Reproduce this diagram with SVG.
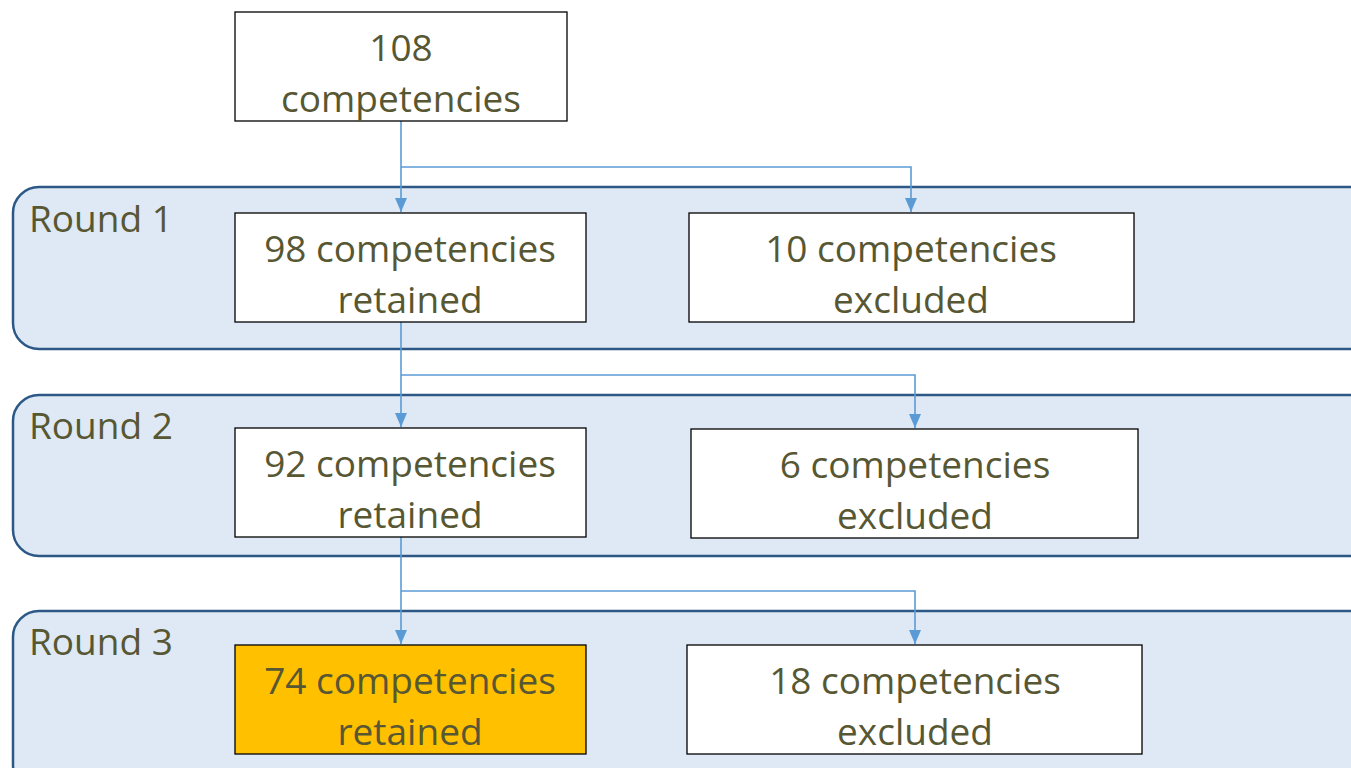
<svg xmlns="http://www.w3.org/2000/svg" width="1351" height="768" viewBox="0 0 1351 768">
<style>
.panel{fill:#DEE9F5;stroke:#2D5886;stroke-width:2.5}
.box{fill:#FFFFFF;stroke:#000000;stroke-width:1.3}
.hl{fill:#FFC000;stroke:#000000;stroke-width:1.3}
text{font-family:"Open Sans","Liberation Sans",sans-serif;font-size:37px;fill:#575733}
.c{text-anchor:middle}
.conn{fill:none;stroke:#5B9BD5;stroke-width:1.6}
</style>
<defs>
<marker id="ah" viewBox="0 0 14 12" refX="14" refY="6" markerWidth="14" markerHeight="12" markerUnits="userSpaceOnUse" orient="auto">
<path d="M0,0 L14,6 L0,12 Z" fill="#5B9BD5"/>
</marker>
</defs>
<rect width="1351" height="768" fill="#FFFFFF"/>
<g id="panel1"><rect class="panel" x="13" y="187" width="1370" height="162" rx="26"/><text x="29" y="232">Round 1</text></g>
<g id="panel2"><rect class="panel" x="13" y="395" width="1370" height="161" rx="26"/><text x="29" y="439">Round 2</text></g>
<g id="panel3"><rect class="panel" x="13" y="611" width="1370" height="180" rx="26"/><text x="29" y="655">Round 3</text></g>
<g id="connectors">
<path class="conn" d="M401,121 V212" marker-end="url(#ah)"/>
<path class="conn" d="M401,167 H911 V212" marker-end="url(#ah)"/>
<path class="conn" d="M401,322 V427" marker-end="url(#ah)"/>
<path class="conn" d="M401,375 H915 V428" marker-end="url(#ah)"/>
<path class="conn" d="M401,537 V644" marker-end="url(#ah)"/>
<path class="conn" d="M401,591 H915 V644" marker-end="url(#ah)"/>
</g>
<g id="n108"><rect class="box" x="235" y="12" width="332" height="109"/><text class="c" x="401" y="61">108</text><text class="c" x="401" y="112">competencies</text></g>
<g id="n98"><rect class="box" x="235" y="213" width="351" height="109"/><text class="c" x="410" y="262">98 competencies</text><text class="c" x="410" y="313">retained</text></g>
<g id="n10"><rect class="box" x="689" y="213" width="445" height="109"/><text class="c" x="911" y="262">10 competencies</text><text class="c" x="911" y="313">excluded</text></g>
<g id="n92"><rect class="box" x="235" y="428" width="351" height="109"/><text class="c" x="410" y="477">92 competencies</text><text class="c" x="410" y="528">retained</text></g>
<g id="n6"><rect class="box" x="691" y="429" width="447" height="109"/><text class="c" x="915" y="478">6 competencies</text><text class="c" x="915" y="529">excluded</text></g>
<g id="n74"><rect class="hl" x="235" y="645" width="351" height="109"/><text class="c" x="410" y="694">74 competencies</text><text class="c" x="410" y="745">retained</text></g>
<g id="n18"><rect class="box" x="687" y="645" width="455" height="109"/><text class="c" x="915" y="694">18 competencies</text><text class="c" x="915" y="745">excluded</text></g>
</svg>
